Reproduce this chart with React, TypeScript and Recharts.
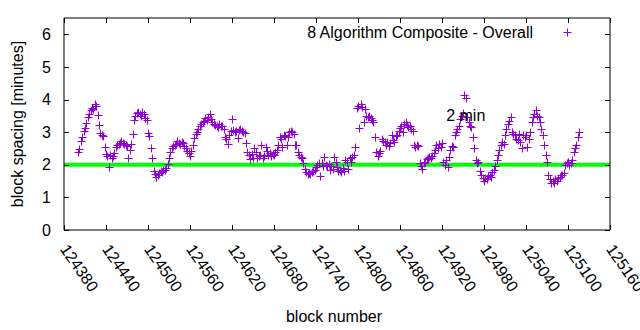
import { Customized, ReferenceDot, ReferenceLine, Scatter, ScatterChart, XAxis, YAxis } from 'recharts';

const FONT = '"Liberation Sans", Arial, sans-serif';
const PURPLE = '#9400d3';

// block spacing in minutes, one value every 2 blocks, each run starts at the given block
const run124400 = [
  2.38, 2.47, 2.74, 2.86, 3.04, 3.12, 3.28, 3.46, 3.55, 3.68,
  3.74, 3.71, 3.86, 3.79, 3.52, 3.22, 2.98, 2.92, 2.87, 2.55,
  2.34, 2.26, 1.93, 2.31, 2.21, 2.27, 2.36, 2.54, 2.6, 2.63,
  2.66, 2.72, 2.68, 2.64, 2.61, 2.57, 2.22, 2.44, 2.63, 2.94,
  3.36, 3.5, 3.58, 3.63, 3.55, 3.51, 3.62, 3.56, 3.44, 3.36,
  2.98, 2.89, 2.5, 2.21, 1.82, 1.71, 1.64, 1.7, 1.76, 1.8,
];
const run124520 = [
  1.78, 1.85, 1.83, 1.9, 2.02, 2.2, 2.4, 2.52, 2.57, 2.61,
  2.65, 2.72, 2.68, 2.64, 2.71, 2.66, 2.58, 2.5, 2.41, 2.35,
  2.28, 2.42, 2.61, 2.82, 2.94, 3.0, 3.1, 3.18, 3.25, 3.31,
  3.35, 3.42, 3.38, 3.46, 3.55, 3.4, 3.3, 3.25, 3.22, 3.18,
  3.15, 3.26, 3.2, 3.19, 3.1, 2.86, 2.78, 2.65, 2.9, 3.05,
  3.4, 3.06, 3.0, 3.05, 2.82, 3.08, 3.1, 3.04, 3.0, 2.96,
];
const run124640 = [
  2.66, 2.4, 2.3, 2.19, 2.32, 2.21, 2.52, 2.38, 2.2, 2.28,
  2.3, 2.62, 2.2, 2.28, 2.55, 2.42, 2.3, 2.36, 2.28, 2.32,
  2.3, 2.4, 2.45, 2.6, 2.85, 2.8, 2.55, 2.9, 2.88, 2.6,
  2.85, 3.0, 3.05, 3.02, 2.95, 2.62, 2.6, 2.4, 2.3, 2.25,
  2.2, 2.06, 1.86, 1.78, 1.72, 1.75, 1.71, 1.78, 1.8, 1.83,
  1.92, 2.0, 2.05, 1.65, 2.06, 1.95, 2.25, 2.0, 1.95, 2.02,
];
const run124760 = [
  1.85, 1.95, 1.88, 2.25, 2.1, 1.92, 1.8, 1.85, 1.78, 1.9,
  1.82, 2.15, 2.1, 1.86, 2.2, 2.1, 2.25, 2.3, 2.55, 3.75,
  3.8, 3.12, 3.85, 3.78, 3.3, 3.72, 3.5, 3.45, 3.5, 3.42,
  3.38, 3.3, 2.86, 2.4, 2.28, 2.35, 2.42, 2.8, 2.74, 2.7,
  2.62, 2.7, 2.58, 2.66, 2.9, 2.76, 2.7, 2.88, 2.92, 3.05,
  3.12, 3.2, 3.0, 3.25, 3.3, 3.22, 3.15, 3.2, 3.1, 3.05,
];
const run124880 = [
  2.6, 2.55, 2.6, 2.57, 2.05, 1.95, 1.88, 2.04, 2.1, 2.18,
  2.22, 2.25, 2.2, 2.28, 2.35, 2.45, 2.6, 2.5, 2.65, 2.55,
  2.68, 2.1, 2.0, 2.15, 1.92, 2.25, 2.45, 2.58, 2.55, 2.9,
  3.0, 3.1, 3.2, 3.4, 3.5, 3.6, 4.15, 4.05, 3.45, 3.3,
  3.2, 3.15, 2.85, 2.5, 2.15, 2.05, 2.1, 1.8, 1.7, 1.6,
  1.5, 1.58, 1.55, 1.65, 1.7, 1.64, 1.78, 1.85, 1.95, 2.15,
];
const run125000 = [
  2.3, 2.45, 2.6, 2.7, 2.65, 2.9, 3.1, 3.25, 3.35, 3.45,
  3.0, 2.95, 2.9, 2.8, 2.75, 2.95, 2.7, 2.5, 2.9, 2.85,
  2.9, 2.55, 2.8, 3.0, 3.3, 3.45, 3.55, 3.68, 3.5, 3.45,
  3.3, 3.1, 2.9, 2.6, 2.3, 2.1, 1.7, 1.55, 1.45, 1.5,
  1.45, 1.55, 1.5, 1.6, 1.62, 1.68, 1.7, 1.75, 2.0, 2.05,
  2.1, 2.0, 2.05, 2.15, 2.4, 2.5, 2.6, 2.85, 3.0,
];

const runs: [number, number[]][] = [
  [124400, run124400],
  [124520, run124520],
  [124640, run124640],
  [124760, run124760],
  [124880, run124880],
  [125000, run125000],
];

const xTicks = [
  124380, 124440, 124500, 124560, 124620, 124680, 124740,
  124800, 124860, 124920, 124980, 125040, 125100, 125160,
];
const yTicks = [0, 1, 2, 3, 4, 5, 6];
const targetMinutes = 2;
const labelBlock = 124926;
const labelSpacing = 3.5;

const points = runs.flatMap(([start, vals]) =>
  vals.map((v, i) => ({ block: start + i * 2, spacing: v })),
);

const px = (v: number) => Math.round(v) + 0.5;

const Cross = ({ cx, cy }: any) => {
  const x = px(cx);
  const y = px(cy);
  return <path d={`M${x - 4},${y}h8M${x},${y - 4}v8`} stroke={PURPLE} strokeWidth={1} fill="none" />;
};

const BottomTick = ({ x, y, payload }: any) => (
  <g>
    <line x1={px(x)} y1={y} x2={px(x)} y2={y - 5} stroke="#000" />
    <text
      x={x}
      y={y + 16}
      dy="0.35em"
      transform={`rotate(55 ${x} ${y + 16})`}
      fontFamily={FONT}
      fontSize={16}
      fill="#000"
    >
      {payload.value}
    </text>
  </g>
);

const TopTick = ({ x, y }: any) => <line x1={px(x)} y1={y} x2={px(x)} y2={y + 5} stroke="#000" />;

const LeftTick = ({ x, y, payload }: any) => (
  <g>
    <line x1={x} y1={px(y)} x2={x + 5} y2={px(y)} stroke="#000" />
    <text x={x - 13} y={y} dy="0.35em" textAnchor="end" fontFamily={FONT} fontSize={16} fill="#000">
      {payload.value}
    </text>
  </g>
);

const RightTick = ({ x, y }: any) => <line x1={x} y1={px(y)} x2={x - 5} y2={px(y)} stroke="#000" />;

const Decor = () => (
  <g fontFamily={FONT} fontSize={16} fill="#000">
    <text x={533} y={32} dy="0.35em" textAnchor="end">
      8 Algorithm Composite - Overall
    </text>
    <path d="M563.5,32.5h8M567.5,28.5v8" stroke={PURPLE} fill="none" />
    <text x={17} y={124} dy="0.35em" textAnchor="middle" transform="rotate(-90 17 124)">
      block spacing [minutes]
    </text>
    <text x={334} y={316} dy="0.35em" textAnchor="middle">
      block number
    </text>
  </g>
);

const axisLine = { stroke: '#000' };

export default function App() {
  return (
    <div style={{ position: 'absolute', left: 0, top: 0, background: '#fff' }}>
      <ScatterChart width={640} height={330} margin={{ top: 17, right: 29, bottom: 99, left: 0 }}>
        <XAxis
          dataKey="block"
          type="number"
          domain={[124380, 125160]}
          ticks={xTicks}
          interval={0}
          height={1}
          tickSize={0}
          tickMargin={0}
          tickLine={false}
          axisLine={axisLine}
          tick={<BottomTick />}
        />
        <XAxis
          xAxisId="top"
          orientation="top"
          dataKey="block"
          type="number"
          domain={[124380, 125160]}
          ticks={xTicks}
          interval={0}
          height={1}
          tickSize={0}
          tickMargin={0}
          tickLine={false}
          axisLine={axisLine}
          tick={<TopTick />}
        />
        <YAxis
          dataKey="spacing"
          type="number"
          domain={[0, 6.5]}
          ticks={yTicks}
          interval={0}
          width={64}
          tickSize={0}
          tickMargin={0}
          tickLine={false}
          axisLine={axisLine}
          tick={<LeftTick />}
        />
        <YAxis
          yAxisId="right"
          orientation="right"
          dataKey="spacing"
          type="number"
          domain={[0, 6.5]}
          ticks={yTicks}
          interval={0}
          width={1}
          tickSize={0}
          tickMargin={0}
          tickLine={false}
          axisLine={axisLine}
          tick={<RightTick />}
        />
        <Scatter data={points} shape={<Cross />} isAnimationActive={false} />
        <Scatter
          data={points}
          xAxisId="top"
          yAxisId="right"
          shape={() => <g />}
          isAnimationActive={false}
        />
        <ReferenceLine y={targetMinutes} stroke="#00ff00" strokeWidth={4} />
        <ReferenceDot
          x={labelBlock}
          y={labelSpacing}
          r={0}
          shape={(p: any) => (
            <text x={p.cx} y={p.cy} dy="0.35em" fontFamily={FONT} fontSize={16} fill="#000">
              2 min
            </text>
          )}
        />
        <Customized component={Decor} />
      </ScatterChart>
    </div>
  );
}
